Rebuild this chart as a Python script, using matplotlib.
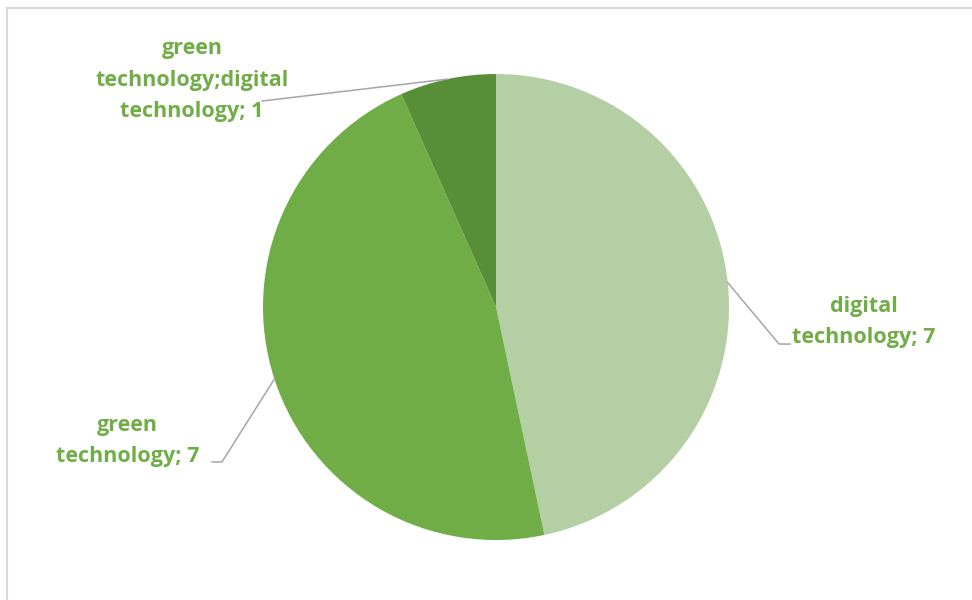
import matplotlib.pyplot as plt
import numpy as np
from matplotlib.lines import Line2D

# --- Data ---
labels = ['digital\ntechnology; 7', 'green\ntechnology; 7', 'green\ntechnology;digital\ntechnology; 1']
values = [7, 7, 1]
colors = ['#B5CFA5', '#70AD47', '#588E38']

# label layout (data coords relative to pie radius 1)
label_pos = [(1.578, -0.064), (-1.580, -0.575), (-1.305, 0.974)]
elbows = [[(1.215, -0.159), (1.262, -0.159)],
          [(-1.176, -0.665), (-1.219, -0.665)],
          [(-1.004, 0.884)]]

fig = plt.figure(figsize=(9.72, 6), dpi=100)
ax = fig.add_axes([263 / 972, 60 / 600, 466 / 972, 466 / 600])

wedges, _ = ax.pie(values, colors=colors, startangle=90, counterclock=False,
                   radius=1, wedgeprops=dict(linewidth=0))
ax.set_xlim(-1, 1)
ax.set_ylim(-1, 1)
ax.set_aspect('equal')
ax.axis('off')

# --- Labels with leader lines ---
for w, lab, pos, pts in zip(wedges, labels, label_pos, elbows):
    mid = np.deg2rad((w.theta1 + w.theta2) / 2)
    start = (np.cos(mid), np.sin(mid))
    xs = [start[0]] + [p[0] for p in pts]
    ys = [start[1]] + [p[1] for p in pts]
    ax.plot(xs, ys, color='#A6A6A6', lw=1.1, clip_on=False, zorder=1)
    ax.text(pos[0], pos[1], lab, ha='center', va='center', multialignment='center',
            fontsize=15.5, fontweight='bold', color='#70AD47', family='Open Sans',
            linespacing=1.65)

# frame edges (top and left only visible)
fig.add_artist(Line2D([7 / 972, 7 / 972], [0, 1 - 8 / 600], color='#D9D9D9', lw=1.5))
fig.add_artist(Line2D([7 / 972, 1], [1 - 8 / 600, 1 - 8 / 600], color='#D9D9D9', lw=1.5))

fig.savefig('out.png', dpi=100)
